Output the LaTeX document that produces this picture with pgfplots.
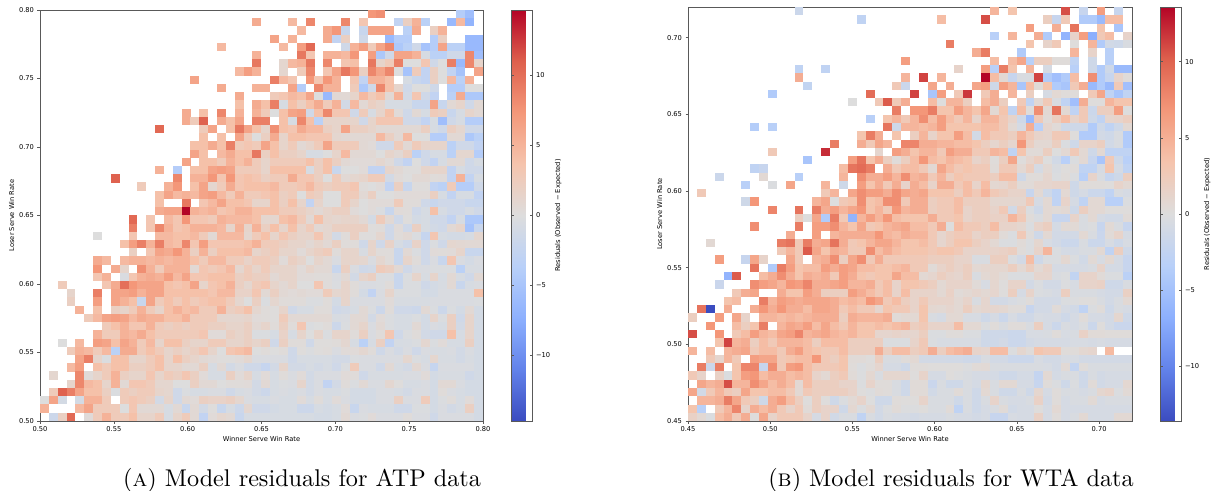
\documentclass[border=0pt]{standalone}
\usepackage{fontspec}
\usepackage{pgfplots}
\pgfplotsset{compat=1.18}
\newfontfamily\dv{DejaVu Sans}

\pgfplotsset{
  colormap={coolwarm}{rgb255=(59,76,192) rgb255=(98,130,234) rgb255=(141,176,254) rgb255=(184,208,249)
    rgb255=(221,221,221) rgb255=(245,196,173) rgb255=(244,152,122) rgb255=(222,96,77) rgb255=(180,4,38)},
  heat/.style={
    scale only axis,
    anchor=south west,
    axis line style={black!65,line width=0.8pt},
    tick style={black!65,line width=0.6pt},
    major tick length=2.5pt,
    tick align=outside,
    xtick pos=bottom,
    ytick pos=left,
    enlargelimits=false,
    tick label style={font=\dv\fontsize{6.7}{8}\selectfont},
    label style={font=\dv\fontsize{6.7}{8}\selectfont},
    /pgf/number format/assume math mode=true,
    /pgf/number format/fixed,
    /pgf/number format/fixed zerofill,
    /pgf/number format/precision=2,
    xticklabel style={yshift=0.5pt},
    xlabel style={yshift=2.5pt},
    ylabel style={yshift=-2pt},
    point meta=explicit,
  },
  bar/.style={
    at={(parent axis.south east)},
    anchor=south west,
    xshift=20pt,
    width=21pt,
    ytick={-10,-5,0,5,10},
    yticklabels={−10,−5,0,5,10},
    axis line style={black!65,line width=0.6pt},
    tick style={black!65,line width=0.6pt},
    major tick length=2.5pt,
    tick label style={font=\dv\fontsize{6.7}{8}\selectfont},
    ylabel={Residuals (Observed − Expected)},
    ylabel style={font=\dv\fontsize{6.7}{8}\selectfont,yshift=2pt},
  },
  cell/.style={scatter,only marks,mark=hcell,scatter src=explicit},
}
\pgfdeclareplotmark{hcell}{\pgfpathrectangle{\pgfpoint{-4.45pt}{-4.14pt}}{\pgfpoint{8.9pt}{8.28pt}}\pgfusepathqfill}

% one row of cells: row from the top, first column, values (x = empty cell)
% values were read low against the colour bar, \mv corrects them
\newcount\cellcol
\def\blank{x}
\newcommand{\R}[3]{%
  \cellcol=#2\relax
  \def\pts{}%
  \pgfplotsforeachungrouped \val in {#3}{%
    \ifx\val\blank\else
      \pgfmathsetmacro\cx{\xo+(\the\cellcol+0.5)*\dx}%
      \pgfmathsetmacro\cy{\yt-(#1+0.5)*\dy}%
      \pgfmathsetmacro\mv{\val*(1.4-0.027*abs(\val))}%
      \edef\pts{\pts (\cx,\cy) [\mv]}%
    \fi
    \advance\cellcol by 1 }%
  \edef\tmp{\noexpand\addplot[cell] coordinates {\pts};}\tmp}

\begin{document}
\begin{tikzpicture}
\path[use as bounding box] (0,0) rectangle (1212pt,490pt);

\begin{axis}[heat,at={(40pt,69pt)},width=443pt,height=411pt,
  xmin=0.5,xmax=0.8,ymin=0.5,ymax=0.8,
  xtick={0.5,0.55,...,0.8},ytick={0.5,0.55,...,0.8},
  xlabel={Winner Serve Win Rate},ylabel={Loser Serve Win Rate},
  point meta min=-14.68,point meta max=14.68,
  colorbar,colorbar style={bar,height=411pt}]
\def\xo{0.5}\def\dx{0.006}\def\yt{0.8}\def\dy{0.006}
\R{0}{37}{6,6.5}\R{0}{47}{-3,-4.5}
\R{1}{24}{4.5,x,x,x,3.5,x,7,x,x,x,7,x,2.5,x,x,x,-2,1.5,4,-2.5,x,x,-5,3.5,-5.5}
\R{2}{29}{3.5,x,x,4.5,6,-1.5,x,-1.5,5,5,5,x,-2.5,4.5,x,1.5,4}
\R{3}{26}{5,x,4,x,x,x,4.5,-2,1.5,x,-1,x,x,-5,-3,-3,x,x,-3,1.5,x,x,-5,-5}
\R{4}{20}{3.5,x,x,x,x,x,x,3.5,x,5.5,9,x,x,x,-1,4,5.5,2,5,7,-3.5,-2.5,-1,-4,-3,5,-2.5,-2.5,-5,-5}
\R{5}{24}{4,x,x,x,x,8,2.5,x,4,4,3.5,6,x,5.5,-3.5,-1,5,5,4,-.5,-2.5,-2.5,-1,-1,7,-4.5}
\R{6}{24}{8,x,x,.8,3.5,4,8,x,7,x,2.5,3,x,8,1,2,7.5,0,0,2.5,-1,0,7.5,-5,7,1}
\R{7}{22}{3.5,5.5,4,x,x,.8,x,2,7,x,2.5,5,8,6,1.5,7,5,7,0,-4,2,-2,1.5,0,-2,-4,x,5}
\R{8}{17}{5}\R{8}{26}{7.5,3.5,2.5,x,6,2.5,6,4,x,2.5,-2,4,4,3,x,-.5,-1.5,-2,1.5,0,3.5,-2.5,4}
\R{9}{20}{4.5,x,x,x,4,4,x,x,5,-3,x,7,4,4,x,2,-3.5,-1,7,3,1,-1,0,0,-1,x,-3,-3,0,0}
\R{10}{22}{4.5,x,x,x,2,2.5,3.5,3,5,0,-5,.5,.5,1,3.5,2,3,.5,4,-.8,2.5,-1,-2,x,-2.5,4.5,-3.5,-3.5}
\R{11}{22}{3,x,4.5,3,7.5,-.5,3,1.5,3,4.5,2,4,-.8,3.5,.5,1.5,1,-.5,-.5,-.5,-1.5,-1.5,5,-1.5,.5,1,-1,.5}
\R{12}{16}{4.5,x,3,x,7,x,4,x,4,2,0,3,5,5.5,-1,3,7,2.5,2.5,-1,2,-.5,1,3,.3,-1,.5,-.5,2,1.5,-1.5,-.5,1,.5}
\R{13}{16}{4.5,2,9.5,x,4.5,3,5,x,7.5,7.5,x,3,-.5,7,3,-2.5,1,1,1,1,-1,1,2.5,2.5,2.5,-1,-1,-2,-.5,-4.5,-1,-.5,-3,-3}
\R{14}{13}{9}\R{14}{18}{2,5,x,3,8,5,3,1,6.5,3,2.5,4.5,3.5,3.5,1.5,1,5,1.5,1.5,1,.5,.5,.5,.5,.5,1.5,-.5,-1,1.5,.8,-1,-1}
\R{15}{18}{3,x,3,x,5,2,0,1.5,4.5,1,3,3,2.5,2.5,2.5,.8,.5,.5,.5,.5,3.5,1.5,.5,3.5,0,0,-3,-3,.5,.5,-3.5,-2.5}
\R{16}{17}{3,3,4.5,3,7.5,2,2.5,2,5,3,1,2,.5,1,2,5,2,2,2,.5,.3,-1,-1,2,.5,2,1,1,1,-2.5,-1,-1,-2}
\R{17}{17}{5,3,x,3.5,4.5,3,3,8,1.5,3,1.5,1.5,1,-.5,-.5,0,1,3.5,.5,.5,.5,0,1,.5,1.5,-2.5,-1,-.5,-.5,-2.5,.8,.8,-3}
\R{18}{16}{5,x,3,3,2,4,3,4,2,1,2,2,2,2,3,1.5,3,1.5,.5,.3,.3,.3,.8,.3,-1,-2,0,-1,-2,-.5,.5,.5,-1,-.5}
\R{19}{13}{4,x,-3,x,3,3,5,5.5,5,2,2,2,1,3,3,3,3,-.5,1.5,3,-1.5,0,0,.3,-2,-2,1,.5,.1,.1,1,1,1,-2,-.5,-1,-1}
\R{20}{8}{9.5}\R{20}{15}{7,x,4,4,6,2.5,6,2.5,3,2.5,1.5,2,2,4.5,2.5,2.5,1.5,0,2,.5,.8,1,2,2,-.8,.3,0,.5,.5,.2,.3,-2,4,-2,-.5}
\R{21}{11}{2}\R{21}{14}{4,6,x,3,5,.8,2,4.5,2.5,3,3,3,3.5,2,2,2.5,3.5,2,1.5,2,2,2.5,.2,0,.3,-2,1.5,-1.5,.1,.1,-2,-2.5,2,-3,-3,-1}
\R{22}{13}{3,5,3.5,4,3.5,5,5.5,3.5,2,4,2,2,2.5,3,1.5,2,0,2,1.5,0,0,2,2,.5,1.5,0,0,.3,.3,.3,.3,1.5,-.5,-2,-.5,-.5,-2}
\R{23}{13}{3,x,x,8,x,2.5,3.5,5,3,3,2.5,1,1,3,1.5,3,1,-2,1,0,0,2,1,0,.3,.3,.3,2,.2,.2,-1,-1.5,-1,-1,-1,-1.5,-1.5}
\R{24}{13}{4.5,5,5,14.7,4,3.5,4,2.5,3,4,4,3,3,3,2,2,1.5,1,.5,1,1.5,1.5,.3,0,.3,-.2,-1.5,.3,.2,-1,-.5,3,-.5,-1,-1,-.5,-1}
\R{25}{10}{9,x,2.5,x,3.5,2.5,6,2.5,2.5,2,4,3.5,3.5,3.5,3,.8,.8,3,3.5,2,.5,3,1,.8,1,1,.5,-.7,2,.5,-1,.1,-.7,-.5,-1,-1,-2,-.5,-3.5,-3.5}
\R{26}{10}{7.5,x,2.5,7,4,2.5,3,4,4,4,3.5,1,4,1,4,1.5,3,1,3,1,2,.5,.8,1.5,1.5,1.5,1.5,.1,.2,-1,.3,-1,1.5,-.5,-.8,-1,.5,1,-4,-1.5}
\R{27}{6}{0}\R{27}{10}{2.5,x,x,3.5,3.5,3,3,3.5,2,.5,3.5,3.5,3.5,.8,2,3,1,2.5,1.5,1,1,2.5,.8,-.8,.2,1.5,.1,.1,.8,-1,.2,.5,-.2,-1.7,2.5,-.5,-.7,-.7,-.5,.8}
\R{28}{9}{3,5.5,7.5,4,7.5,3.5,3,7,2.5,5.5,2.5,2.5,2.5,2.5,3,4,2,2,1.5,1,1,.5,1,.5,1.5,.2,.2,-1,1,-1,1.2,-.5,-1,1.2,-1,-.2,-1,.8,.6,.5,.5}
\R{29}{10}{1.5,x,2.5,5,4.5,6,4,1.5,4,1.5,3,3,3,3.5,1,1.5,2,1,1,.3,1,1.5,2,.2,1,1,-.4,1,.2,.2,-1.5,.5,-.2,-1,.3,.2,.3,1,-1.5,-1.5}
\R{30}{6}{4.5,3.5,x,3.5,4,4,3.5,4,3.5,4,4,3,2,3.5,3.5,2,2,1.2,2,2,1.5,.3,1.5,1,0,1,.5,-.3,1,1,.8,-.3,.8,.2,-1.5,1,.2,-1,-.3,-1.5,2.5,-.3,-.7,-.3}
\R{31}{6}{6,x,4.5,1,x,6.5,4,2,4,4,4,.5,2.5,2,2.5,3.5,.8,2,1,2,1,1,1,.3,1,.5,.5,-1.5,1.5,-.3,-1,-.8,2,1.5,.5,-1,-.3,-.3,-.2,-.2,-.2,-2.5,-.4,-.4}
\R{32}{6}{2.5,4,x,-.3,2.5,4,4.5,4,5.5,3.5,5,2.5,2.5,3,3,3,1.5,2,1.5,1.5,.5,1,1,.3,.3,.2,.2,-.3,.5,-.8,1,1.5,-.2,-.2,-1.5,-.2,1,-.4,1,-.5,.5,-.5,-1,.5}
\R{33}{2}{2}\R{33}{7}{2.5,4.5,8.5,6,5,5,5,3,2.5,3,5,1,2.5,3,4,1.5,.8,2,2.5,1,.5,1,0,0,2.5,.2,-.2,1,.2,-.3,-.3,-.2,.2,-1.5,-.2,-.2,-1,-.7,-.4,.5,-1.5,-.5,-.3}
\R{34}{3}{1,x,x,7.5,x,5,5,5.5,4,5,5,3,3,3,3,3,2.5,3.5,3.5,1.2,1.2,2.5,.5,1.5,.5,.3,.5,.3,.3,2,.8,1,.2,-.7,-2,-.3,1,-.2,-.2,-.2,-.7,-.7,-.3,-.3,-.3,-.3,3}
\R{35}{3}{1.5,x,x,5.5,x,5,4,3,-1.5,5,2,3,2,3,2,2.5,3,3,2,.8,0,1.5,-.2,.8,.2,.2,.2,-.2,-.2,.2,-.7,1,-.3,-.3,-.3,-.3,.3,-.4,-.4,-.4,-.4,-.3,-.3,-.3,-.3,-.3,-.2}
\R{36}{4}{4,x,3,x,1.5,1,2,4,2,1,3,4,3,3.5,2,2,4,1.5,2,3,.8,.2,.1,1,-1,-.5,-.5,.2,.2,-1,-.8,-.5,.5,-.2,-1.2,.2,-1,-1,-1.2,.5,-.2,-1.2,-.2,-.7,.5,-.7}
\R{37}{5}{2,3.5,5,5.5,5,3.5,4.5,4,4,3,3,4,2,2,2,.8,.8,.8,1,.3,.2,.1,2,.5,.5,.5,.5,.5,-.4,-.3,.5,.5,-.8,.3,-.2,-.5,-.5,-.2,-.7,1,-.2,1.5,-1,1,-.7}
\R{38}{7}{2,3,4,2.5,2.5,4,2,1.5,2,1.5,2,2,1.5,1.5,1,1,1.5,.5,1,.2,1.5,.2,2.5,-.2,0,.2,-1.2,-.2,.5,1,-.3,.5,-.2,-.5,-.5,.5,-.7,-.3,-.5,1.5,-.8,1,-.7}
\R{39}{6}{4,2,2,4,3.5,4.5,3,2,2,2,2,2,2.5,.3,.3,1.5,1,1.5,-.2,-.2,-.5,1.2,-.5,1,0,1,-.2,1,1,.2,1.5,-.3,.2,2.5,-1,-.2,.2,-.8,-1,-1,3,-.5,1,-.7}
\R{40}{2}{0,x,3.5,x,5.5,5,3,5,4,2,3.5,1,3,3,1.5,1,1,2,2,1,1,1.5,1,1.5,-1,1.5,.2,.2,-1,.1,.1,.2,.7,-.5,-2.5,-.5,1.5,-2,-.5,-.4,-.2,.7,-.2,.3,-.5,-.5,1.5,-.7}
\R{41}{3}{2,4,3.5,2,3.5,-2.5,4.5,4.5,2,3,2,1,1.5,1,1.5,2.5,1,0,2.5,3,3.5,0,.2,0,.2,-1,.1,-.2,.1,.2,-.3,.3,.3,.7,.2,-1,-.3,-.8,-.3,-1,-.3,-.4,-.4,-.3,-.8,-.3,-.7}
\R{42}{4}{5,7.5,1,-.2,3,3,1,1,2,3,1,3,1.5,1,.5,.3,.1,.1,.3,.8,-.3,-.3,-.3,-.3,-1,-.5,-.5,-.5,-.5,-.8,-.8,-.2,-.3,-.3,-.3,-.3,-.3,.8,-.2,-.5,.8,-.4,-.4,-.8,-.4,-.7}
\R{43}{3}{3.5,5.5,x,3,2,3,3,1.5,1.5,2,3,1,1,.5,.5,1.5,-.5,.5,-.8,-.3,-1,-1,-1.7,-.8,1,-.8,-.8,-.5,-.8,-.5,-1,-.2,2,-.3,-.3,-1,.5,-.5,-.8,.6,-.3,-1.7,-.3,-.3,-.3,-.3,-.7}
\R{44}{1}{.8,x,x,7,.3,1,2,4,1.5,1,1,2.5,1,2,1.5,2.5,1.5,.3,-.5,-.5,1.5,.3,1,-.5,.3,-.5,.2,-.3,.3,-.8,-.3,-.3,-.3,.3,.2,-1,-.4,-.4,-.4,-.4,-.3,-.3,.3,-.7,-.4,-.4,-.4,-1,-.7}
\R{45}{3}{1,7,3.5,3,1,4,.5,2.5,2.5,2,.8,.8,0,0,1.5,.5,.5,0,.2,.2,.3,-.8,.5,-.5,-.2,-.3,1,-.8,-.3,-2,-.8,.2,-.2,.5,-.3,-.3,.7,.1,-.5,-.5,-.3,-.7,.5,.5,-.3,-.7,-.7}
\R{46}{1}{2,9.5,7.5,5,3,3,1.5,-.2,2,1.5,2,2,1,.8,-1,-.2,-.5,-.5,-.3,-.3,-1,-.5,-.3,-.8,-1.2,-.5,-.3,-.5,-.3,-.8,-.3,-.5,-.5,-.2,-.7,-.7,-.7,-.3,-.3,-.5,-.8,-.3,-.3,-.7,.2,-.3,-.5,-.7,-.7}
\R{47}{0}{0,5,-.7,x,-.7,4,4,2,x,2,2.5,2,1.5,-.8,1,-1,.5,.3,1.5,1.2,1.2,1.5,.8,-.3,-.5,-.5,-.3,-.5,-.5,.3,-.5,.2,-.5,.3,-.3,-.7,-.7,-.7,-.3,-.3,1.5,-.3,-.3,2,-.7,-.2,.2,-.5,.3,-.7}
\R{48}{0}{4,x,x,x,3.5,5,2,2,2,0,2.5,.5,.5,.5,-.5,.5,-1.5,.5,-.8,.1,-1.5,-.5,-1.2,.7,-1,-1,-.7,-.5,-.5,-1.2,-1.2,-.5,-.7,-.5,.3,-1.5,-.3,-.5,-.5,-.5,-1,-1,-.2,-.2,-.7,-.3,-.8,-.5,1.5,-.7}
\R{49}{1}{-1.2,1.5,9,x,.3,2,4,2,2,3,1,1,2,-.5,1,2,.5,-2,.3,.8,.5,-1.5,-.5,-.5,-.5,-.5,-.5,-.5,-.5,-.5,-.7,-.7,-.5,.5,-.3,-.2,.3,-.3,-.3,-.3,.2,-.3,-.3,-1,-.3,-.3,-.3,-.3,-.7}
\end{axis}

\begin{axis}[heat,at={(688pt,69pt)},width=444pt,height=414pt,
  xmin=0.45,xmax=0.72,ymin=0.45,ymax=0.72,
  xtick={0.45,0.5,...,0.7},ytick={0.45,0.5,...,0.7},
  xlabel={Winner Serve Win Rate},ylabel={Loser Serve Win Rate},
  point meta min=-13.6,point meta max=13.6,
  colorbar,colorbar style={bar,height=414pt}]
\def\xo{0.45}\def\dx{0.0054}\def\yt{0.72}\def\dy{0.0054}
\R{0}{12}{-1.2}\R{0}{34}{3.5,x,2.5}\R{0}{42}{9.5,x,-1.5,x,5,x,-1.5}
\R{1}{19}{-2}\R{1}{28}{3}\R{1}{33}{9.5}\R{1}{40}{1.5,-1.5,2,x,-3,-3,-4.5,3,3}
\R{2}{38}{5,x,x,4,x,7.5,x,x,2.5,x,-3.5}
\R{3}{34}{-2.5,x,3.5,x,x,4,-3,x,-5,1,5,-5.5,2,3,x,1}
\R{4}{29}{7}\R{4}{38}{2.5,x,1,2,x,.1,x,3.5,-3,-.8,-1,-.3}
\R{5}{32}{4,7}\R{5}{37}{-3}\R{5}{43}{3.5,x,1,x,-2.5}
\R{6}{24}{5}\R{6}{34}{3,x,3,4.5,-2.5,1.5,1.5,.2,.2,-2,x,-1,x,-2.5}
\R{7}{12}{-2}\R{7}{15}{-2}\R{7}{30}{1}\R{7}{33}{5,-2.5,7,2.5,x,3.5,x,-.5,x,x,-2.5,x,-1,-3,-1,-4.5,-4.5}
\R{8}{12}{4}\R{8}{24}{3.5,x,10,x,3.5,x,x,x,x,13.5,3,.5,-1.5,-.3,-.3,10,-3,-4,-3,3,x,6,-3,-1.5,1,.2}
\R{9}{13}{-1.8}\R{9}{23}{2,-1.2,x,x,4.5,x,4,x,x,4.5,5,-1,5,3.5,-3.5,3,.3,2.5,-3,-3.5,2,4,-4.5,-3,-4.5,2,-4}
\R{10}{9}{-3}\R{10}{20}{8,x,x,x,x,10,x,-3.5,5,x,2,10.5,x,2,4,x,3.5,x,1.5,x,-.5,.5,.2,.2,x,2,4.5,-2,-3.5,-2}
\R{11}{18}{0,x,x,2,9,2,4,x,x,3,0,3.5,3.5,1.5,x,3,4,1.5,x,2,-2,.5,2,-.3,-2,-4,4,.1,.1,3.5,2.5,2.5}
\R{12}{23}{7,x,5.5,5.5,7,2.5,2.5,5,3.5,2.5,4.5,.5,2.5,-2,3,.1,6,.5,7.5,.5,-2,2,-1.2,1.5,1.5,5,0}
\R{13}{20}{-2.5,x,2.5,3.5,2,3.5,6,3,5,3,2,3.5,1,3.5,3.5,2,1,-1,-4.5,2,.3,1.5,3,1,2,-1,-2,.8,1,1.5}
\R{14}{7}{-2.8,x,-2.5}\R{14}{22}{7.5,-1,3.5,3.5,3,3.5,5,2.5,2.5,2.5,2.5,3,3,2,.5,-.5,4,-2.5,.8,.3,-1,-1,-1,-3,-1,-2,-1,.5}
\R{15}{19}{2.5,7,4,x,2.5,x,1.5,3.5,1,2.5,2.5,5,3,-.7,3,2,2,1.5,3.5,2,1,.8,2,2,.1,-3,-3,-.7,-1,-.3,-3}
\R{16}{16}{7,x,x,4,2,4.5,3.5,x,6.5,6.5,4,4,3.5,3.5,3,3,2.5,1.5,.8,1.5,.8,5.5,1.5,.5,.5,1.5,-.2,-1,1,1,1.5,-.8,-.3,-3}
\R{17}{9}{2}\R{17}{15}{11,x,x,x,x,x,.8,x,5,4,2.5,3.5,3.5,2,5,4,4,2,2,3.5,3,-2,2.5,.3,.3,1.5,0,.5,2,.5,-1,.5,-2,-2,-2}
\R{18}{13}{-3.5}\R{18}{18}{5,7.5,2.5,4,1.5,.2,1.5,3,5.5,3,2.5,3.5,3,2.5,1,1.5,.2,1.5,4.5,.1,.8,1.5,0,-.8,-2.5,-.2,.5,-1.5,-3.5,2,-1,-2.5}
\R{19}{7}{-2,-1.5}\R{19}{17}{3,7.5,8,7,x,4,2,3,3,2,.5,4.5,3,2,2.5,2,2,.3,2,2,.5,1.5,-.5,.5,-.3,.1,.2,-2,-2,-.5,2.5,-.5,-2}
\R{20}{3}{-1.2}\R{20}{8}{.5}\R{20}{12}{-2.5}\R{20}{17}{3.5,x,6,4,4,5,3.5,6,3.5,4,2,3.5,1.5,2.5,2,2,2,1.5,3,3,-1,.2,.2,.8,-.2,.2,-.2,-2.5,1,-.3,-1.5,-1,1.5}
\R{21}{6}{-2.5,x,x,-.2,x,4.5}\R{21}{15}{3.5,x,-1,x,5,2.5,4,2,4,1,4,3,1,4,4,2,3,1,3,.6,.8,1.5,.3,.3,.8,.8,1,1,-1,.2,.2,.2,.1,1,.5}
\R{22}{1}{2}\R{22}{15}{2,3.5,x,4.5,6,5,5,4,6,4.5,4,4.5,2.5,2.5,2.5,1.5,3,2,3.5,2,1.5,1,1,-1.5,.5,-1,-2,.5,-1,-.5,-1.2,-1.2,-2,-.3,-.5}
\R{23}{6}{-1,5.5}\R{23}{14}{3.5,4.5,0,2,2.5,6,2.5,3,6,6,2,4,4,1.5,2,2,3,1.5,1.5,1.5,.7,.7,.7,.7,2,-.5,.5,-2,1,-.5,-2,.5,.5,-2.5,-2.5,-.2}
\R{24}{9}{6.5,x,x,7.5,x,7,4,5,3.5,4.5,5.5,2.5,3.5,2,5.5,3.5,4,4,1.5,2,2,3,1,1.5,1.5,1,2,-.8,1.5,-.2,-1,.5,.3,.5,-1,1.5,.5,.5,.1,.1,.1}
\R{25}{12}{1.5,0,4.5,-3,7,2,-5,3.5,5,3.5,5.5,3,2.5,2.5,2.5,4,2,2,2.5,1,1.5,1.5,1.2,1.2,3.5,2,.2,-.3,.5,-1.5,-1.5,1,-.3,.5,-.5,-.8,-.8,.3}
\R{26}{7}{6}\R{26}{12}{7,x,5,5,6,3.5,2.5,4.5,2,2.5,3.5,4,4.5,3,3,2,4,0,3,2,2,1.5,3,1,1,.7,-.2,1,1.5,-.6,.4,.4,-.3,-.1,-1.5,.4,-.3,-1.5}
\R{27}{11}{4,x,x,5,x,3.5,4,4,4,4,5.5,3.5,3,4,3.5,3.5,2,.8,1.5,2,2,1,1.5,1.5,.3,-.2,2,.2,-1,.5,-.7,-.7,-.7,.5,-.3,-1.3,.3,1,-.5}
\R{28}{2}{.5}\R{28}{10}{7,7.5,2,7,4,4.5,7.5,4,2,2.5,3.5,4.5,4.5,3.5,2.5,2.5,3,2,.8,1.5,2.5,2.5,1.5,1,.5,-.2,-.2,.3,-.2,.7,-.4,-.7,-1.2,-1.2,-.3,-1.2,-1.2,-.4,-1,-.4}
\R{29}{10}{2,3.5,2,9,4.5,2.5,4,3.5,2,2,6,3,4,3,2.5,2.5,2.5,2,2.5,2.5,2,1,1,1,1,1.2,1.5,.2,-.2,1,3.5,-.2,-.6,-.6,-.3,-.3,.5,-2,1.5,-1}
\R{30}{3}{5}\R{30}{6}{-1.5,4.5,1}\R{30}{11}{4.5,2,x,3.5,4,6,1.5,4.5,6,2,4,2,2,2,2,2,1.5,1.5,1.5,1,1,-.3,-.3,1.5,1.5,-.2,-.7,3,-1,-.2,-.2,.6,-.2,-.8,.4,-.4,.5,-.5,-1.5}
\R{31}{7}{7.5,x,-3,7,5,2.5,3,3,5,4,5,4.5,3,3,2.5,2.5,3,3.5,2,2,.3,1,1.5,1,1.5,.5,.7,.7,.7,1.5,.5,1.5,.4,1,-.5,-.5,-.5,-.5,-.3,1,-.6,-.6,-1.5}
\R{32}{4}{-5,9,x,x,3,4,6,4,2.5,4,3.5,4,2,5,4,2.5,2,2.5,2.5,4.5,3,3,.5,.8,1.5,1,.8,1.5,-.3,.5,.7,.3,-.2,-.2,-.2,.8,.8,-.3,-.1,-1.8,1,1,.3,-.2,-.2,-2.3}
\R{33}{3}{-1.3}\R{33}{7}{6,5,4.5,3.5,5.5,5,6.5,4,4,4.5,5,3.5,3.5,4,2,3,1,2.5,2.5,2,1.5,.5,1,1,1,.3,-.4,.7,.1,1,1,-.7,-.2,-.7,-.7,-.1,-.4,1,1,1.2,-1,-1,-.3}
\R{34}{5}{2,4,4.5,x,x,4,2.5,2.5,5,4,1.5,1.5,1.5,5,4,3,2,3,1,3,1,1,1,.5,1.2,.3,.5,.8,.5,.8,.1,1.5,-.5,1,-.2,-.3,-.5,1.5,-.3,-.3,-.3,-.5,-.7,-.7,1.3}
\R{35}{4}{2.5,3,x,x,7,3.5,5,4.5,4,4.5,4.5,4.5,4,3,3.5,3,5.5,4.5,2,3,1.5,1,2,1,1,1,.5,1,-.3,.8,-.7,-.7,-.4,-.2,.2,-.7,-.7,-.7,-.2,-.1,.1,.1,-.3,-.7,-.3,.5}
\R{36}{1}{7.5,-13,x,4,x,x,4,5.5,4,5.5,4,4,3,4.5,4.5,4,2,3,2,2,.8,2.5,2,2,1,2.5,.6,.5,.8,.5,1.5,.5,.8,.8,.6,.2,.2,-1.5,-.7,-.7,.3,-.5,-.8,-2,-.2,.2,-1,-.3,-.5}
\R{37}{0}{1.5,x,x,5,x,4.5,1,x,3.5,3.5,3,3.5,3,3.5,4,4,4,1.5,4,3.5,3.5,3.5,4,.3,.5,.5,2.5,-.3,-.5,.5,.5,-.4,-.4,-1,-.5,-1.2,-.4,-.9,-.9,-.4,-.5,-.5,-1,-.5,.2,-.5,-.5,-.7,.7,-1}
\R{38}{2}{5.5,x,x,3,1.5,2.5,7,x,3.5,4.5,4,5,3,4.5,3,2,3.5,2.5,2.5,3,2.5,3,3.5,1.5,2,1,1,1,3,.5,.5,-.2,.2,-.3,.2,.2,-.3,1.5,-.5,-1.2,-.3,-.5,-.2,-1.2,.1,-.7,-1.3,-1.3}
\R{39}{0}{9.5,x,x,5.5,x,2,3,5,3.5,3,4.5,5,6.5,3.5,4,4.5,3.5,3,3.5,2.5,2.5,.8,.8,1,.8,.8,1.5,-.2,-.2,.2,.2,-.2,-.2,-1,-1,-1,-1.2,-1.2,-.4,-.4,-.3,.2,-.4,-.3,1.2,.3,.3,.2,.2,.2}
\R{40}{3}{2.5,10,3.5,4,1.5,3,2,3.5,3.5,3.5,3,1.5,3,3,3,1.5,1.5,1.5,1.5,-.2,-.2,-.2,1,2,-.2,-.4,-.4,-.4,-.4,-.4,-1,-1,-.7,-1.2,-1.2,-.7,-.5,-.5,-.5,-.5,-.4,-.4,-.5,-.4,-.5,-.5,-.5}
\R{41}{0}{3.5,x,3,x,3.5,4,4.5,2,3,3,2,4,5,3,2.5,2,2,3,1.5,1.5,1.5,4,1.5,3,3,1.5,2,4,1.5,3,3.5,4,1,.8,3,3,-.1,.7,.2,2.5,2,2,.2,.2,.6,.8,x,3.2}
\R{42}{2}{2,.8,3.5,2,x,5,4.5,4.5,2,2.5,3,3,5.5,2,1.5,2.5,.3,.3,.1,1.5,-.3,-.3,.2,.5,-.7,-.7,-.7,-.8,-.8,-1,-1,-.3,-.7,-.7,-1.2,-1.2,-1.2,-.4,-.7,-.7,-.4,-.4,-.7,-.7,-.7,-.7,-.7,-.7}
\R{43}{1}{7,-1.2,7,x,2.5,6.5,6.5,-1.5,6,2,5,5.5,3,2,2,2,2.5,.2,-.2,.2,.8,-.5,-.5,-1,.2,.2,.1,.1,.1,.1,-.1,.3,.4,-.3,-.3,-.3,-.3,-.3,-.3,-.4,-.7,.4,-1.7,.2,-.3,-.3,-.3,-.3,-.3}
\R{44}{0}{2,1,x,1.2,-.2,2.5,5,5.5,3,4,4,3,3.5,3,1,.5,1.5,2,.3,-.1,.6,-.3,.7,.7,.7,.1,1,-.5,-.5,.1,-.1,-.3,-.5,-.5,-.6,-1,-1,-.6,-.6,-1.7,.5,-.6,-.3,-.3,-1,-.3,-.7,-.5,-.5,-.5}
\R{45}{1}{4.5,3.5,4,9.5,3.5,3.5,6,4.5,3,4,3,.5,3,1.5,1.5,1.5,1,1,-.1,1,.2,.2,-.3,-1,.3,.3,-1.3,-.3,-1,-1,-.3,-.6,.7,-.3,.5,.5,-.5,-.5,-1.5,.2,-.2,-1,-.2,-1,.3,-.8,-.5,-.5,.6}
\R{46}{0}{4.5,-.8,2,3.5,2,1.5,4.5,2.5,2.5,3,3,2,.5,2,1.5,1.5,1.5,1.5,1,.1,-.1,.3,.2,-.3,-1,.3,.3,-.8,-.3,-.3,.3,-.3,-1,.5,-.3,-1,-1,-.3,-1,.7,-.5,.2,-.3,-.3,-.5,-.3,.7,1,-.2,.4}
\R{47}{1}{3.5,3.5,4,7,4.5,2,1.5,-1,4,5,3,1.5,.1,1.5,.1,-1,-.2,.4,1,0,-1,-1,.2,.1,.1,1,-.3,-.3,-.3,-1,-.3,-1,-.3,1,-.3,-.5,-.5,-.3,1.2,-.7,.2,-.5,-.3,-.3,.4,-.5,-.3,-.3,-.3}
\R{48}{0}{2.5,-2.5,x,2,3.5,6.5,1,4,3,4,2,1,2,.3,1.5,1,1,-1,.6,-.2,.5,-.7,-.2,.3,-.1,-.1,.1,-.3,-.3,.3,-2,-.3,-1,-.5,-.3,.3,-.8,-.5,-.5,.1,-.5,.5,-.5,-.5,-.5,-.5,-.5,-.5,-.5,-.5}
\R{49}{0}{1.2,.5,-.2,3,4,2,4,.1,4.5,1,2,2,2,1,-.5,1,-.8,-.3,-.3,-2,-.3,-.8,-.3,-.5,-.5,-.7,-.5,-.5,-.5,-.3,-.5,-.5,-.7,-.5,-1.5,-1.5,-.4,-.5,-.5,1.2,-.5,.2,-.5,-.3,.5,-.5,-.5,-.5,.5,.5}
\end{axis}

\node[font=\fontsize{10}{12}\selectfont] at (302pt,10pt) {\scalebox{2.42}{(\textsc{a}) Model residuals for ATP data}};
\node[font=\fontsize{10}{12}\selectfont] at (951pt,10pt) {\scalebox{2.42}{(\textsc{b}) Model residuals for WTA data}};
\end{tikzpicture}
\end{document}
